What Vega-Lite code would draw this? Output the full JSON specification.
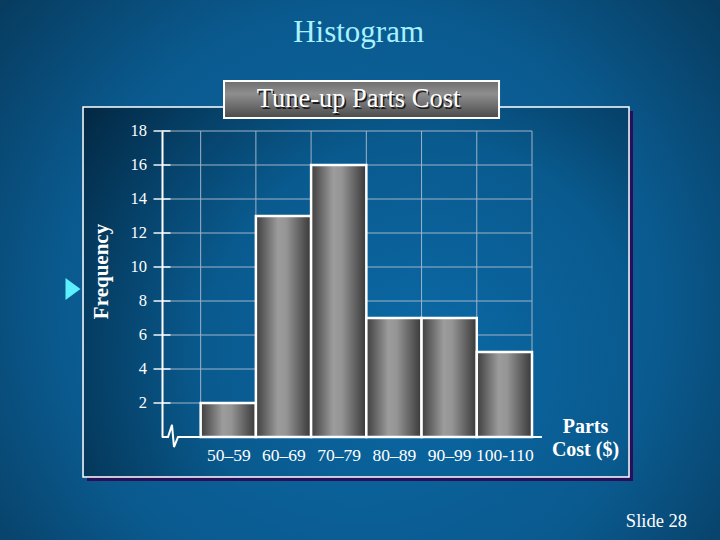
{
  "$schema": "https://vega.github.io/schema/vega-lite/v6.json",
  "width": 370,
  "height": 306,
  "autosize": {"type": "none"},
  "padding": {"left": 162, "top": 131, "right": 188, "bottom": 103},
  "background": "#0a5282",
  "config": {"view": {"stroke": null}, "font": "Liberation Serif", "axis": {"labelOverlap": false, "labelSeparation": 0}},
  "datasets": {
    "bins": [
      {"range": "50–59", "start": 50, "end": 60, "frequency": 2},
      {"range": "60–69", "start": 60, "end": 70, "frequency": 13},
      {"range": "70–79", "start": 70, "end": 80, "frequency": 16},
      {"range": "80–89", "start": 80, "end": 90, "frequency": 7},
      {"range": "90–99", "start": 90, "end": 100, "frequency": 7},
      {"range": "100-110", "start": 100, "end": 110, "frequency": 5}
    ],
    "ygrid": [{"v": 2}, {"v": 4}, {"v": 6}, {"v": 8}, {"v": 10}, {"v": 12}, {"v": 14}, {"v": 16}, {"v": 18}],
    "xgrid": [{"v": 50}, {"v": 60}, {"v": 70}, {"v": 80}, {"v": 90}, {"v": 100}, {"v": 110}],
    "axisbreak": [
      {"cost": 43, "freq": 0},
      {"cost": 44.09, "freq": 0},
      {"cost": 44.81, "freq": 0.71},
      {"cost": 45.17, "freq": -0.59},
      {"cost": 45.9, "freq": 0},
      {"cost": 111.8, "freq": 0}
    ]
  },
  "layer": [
    {
      "data": {"values": [{}]},
      "mark": {"type": "rect", "fill": {"gradient": "radial", "x1": 0.5, "y1": 0.55, "r1": 0, "x2": 0.5, "y2": 0.55, "r2": 0.75,
        "stops": [{"offset": 0, "color": "#0b6aa6"}, {"offset": 0.55, "color": "#0a5a8f"}, {"offset": 1, "color": "#062e4a"}]}},
      "encoding": {
        "x": {"datum": 13, "type": "quantitative"}, "x2": {"datum": 145},
        "y": {"datum": 26, "type": "quantitative"}, "y2": {"datum": -6.5}
      }
    },
    {
      "data": {"values": [{}]},
      "mark": {"type": "rect", "fill": "#2a0e5a"},
      "encoding": {
        "x": {"datum": 29.42, "type": "quantitative"}, "x2": {"datum": 128.29},
        "y": {"datum": 19.18, "type": "quantitative"}, "y2": {"datum": -2.59}
      }
    },
    {
      "data": {"values": [{}]},
      "mark": {"type": "rect", "stroke": "#ffffff", "strokeWidth": 1.5, "fill": {"gradient": "radial", "x1": 0.62, "y1": 0.62, "r1": 0, "x2": 0.62, "y2": 0.62, "r2": 0.8,
        "stops": [{"offset": 0, "color": "#0b69a6"}, {"offset": 0.5, "color": "#095a8e"}, {"offset": 1, "color": "#02243d"}]}},
      "encoding": {
        "x": {"datum": 28.7, "type": "quantitative"}, "x2": {"datum": 127.57},
        "y": {"datum": 19.41, "type": "quantitative"}, "y2": {"datum": -2.35}
      }
    },
    {
      "data": {"name": "xgrid"},
      "mark": {"type": "rule", "color": "#9fb3c8", "strokeWidth": 1},
      "encoding": {"x": {"field": "v", "type": "quantitative"}}
    },
    {
      "data": {"name": "ygrid"},
      "mark": {"type": "rule", "color": "#9fb3c8", "strokeWidth": 1},
      "encoding": {"y": {"field": "v", "type": "quantitative"}}
    },
    {
      "data": {"name": "bins"},
      "mark": {"type": "rect", "stroke": "#ffffff", "strokeWidth": 2.5,
        "fill": {"gradient": "linear", "x1": 0, "y1": 0, "x2": 1, "y2": 0,
          "stops": [{"offset": 0, "color": "#3e3e3e"}, {"offset": 0.4, "color": "#9c9c9c"}, {"offset": 0.55, "color": "#959595"}, {"offset": 1, "color": "#383838"}]}},
      "encoding": {
        "x": {"field": "start", "type": "quantitative",
          "scale": {"domain": [43, 110], "nice": false, "zero": false},
          "axis": {
            "values": [55, 65, 75, 85, 95, 105],
            "labelExpr": "datum.value == 105 ? '100-110' : (datum.value - 5) + '–' + (datum.value + 4)",
            "domain": false, "ticks": false, "tickSize": 0, "grid": false,
            "labelPadding": 23, "labelBaseline": "alphabetic", "labelFontSize": 17.5, "labelColor": "#ffffff",
            "labelFont": "Liberation Serif", "labelOverlap": false, "labelFlush": false, "labelBound": false,
            "title": ["Parts", "Cost ($)"], "titleFont": "Liberation Serif", "titleFontSize": 20, "titleFontWeight": "bold",
            "titleColor": "#ffffff", "titleX": 423, "titleY": -5, "titleAlign": "center", "titleBaseline": "alphabetic",
            "titleAngle": 0, "titleLineHeight": 23, "zindex": 1
          }
        },
        "x2": {"field": "end"},
        "y": {"field": "frequency", "type": "quantitative",
          "scale": {"domain": [0, 18], "nice": false, "zero": false},
          "axis": {
            "values": [2, 4, 6, 8, 10, 12, 14, 16, 18],
            "domain": true, "domainColor": "#ffffff", "domainWidth": 2,
            "ticks": false, "tickSize": 0, "grid": false, "labels": false,
            "title": "Frequency", "titleFont": "Liberation Serif", "titleFontSize": 21, "titleFontWeight": "bold",
            "titleColor": "#ffffff", "titleX": -55, "titleY": 140, "titleAngle": -90, "titleAlign": "center",
            "titleBaseline": "alphabetic", "zindex": 1
          }
        },
        "y2": {"datum": 0}
      }
    },
    {
      "data": {"name": "ygrid"},
      "mark": {"type": "tick", "orient": "horizontal", "color": "#ffffff", "size": 17, "thickness": 2},
      "encoding": {"y": {"field": "v", "type": "quantitative"}, "x": {"datum": 43, "type": "quantitative"}}
    },
    {
      "data": {"name": "ygrid"},
      "mark": {"type": "text", "font": "Liberation Serif", "fontSize": 16.5, "color": "#ffffff", "align": "right", "baseline": "middle", "dx": -15},
      "encoding": {"y": {"field": "v", "type": "quantitative"}, "x": {"datum": 43, "type": "quantitative"}, "text": {"field": "v", "type": "quantitative"}}
    },
    {
      "data": {"name": "axisbreak"},
      "mark": {"type": "line", "color": "#ffffff", "strokeWidth": 2},
      "encoding": {"x": {"field": "cost", "type": "quantitative"}, "y": {"field": "freq", "type": "quantitative"}}
    },
    {
      "data": {"values": [{}]},
      "mark": {"type": "rect", "stroke": "#ffffff", "strokeWidth": 2,
        "fill": {"gradient": "linear", "x1": 0, "y1": 0, "x2": 0, "y2": 1,
          "stops": [{"offset": 0, "color": "#6e6e6e"}, {"offset": 0.35, "color": "#8e8e8e"}, {"offset": 1, "color": "#4a4a4a"}]}},
      "encoding": {
        "x": {"datum": 54.23, "type": "quantitative"}, "x2": {"datum": 104.03},
        "y": {"datum": 20.94, "type": "quantitative"}, "y2": {"datum": 18.76}
      }
    },
    {
      "data": {"values": [{"t": "Tune-up Parts Cost"}]},
      "mark": {"type": "text", "font": "Liberation Serif", "fontSize": 26.5, "color": "#1a1a1a", "align": "center", "baseline": "alphabetic", "dx": 1.5, "dy": 1.5},
      "encoding": {"x": {"datum": 78.58, "type": "quantitative"}, "y": {"datum": 19.41, "type": "quantitative"}, "text": {"field": "t"}}
    },
    {
      "data": {"values": [{"t": "Tune-up Parts Cost"}]},
      "mark": {"type": "text", "font": "Liberation Serif", "fontSize": 26.5, "color": "#ffffff", "align": "center", "baseline": "alphabetic"},
      "encoding": {"x": {"datum": 78.58, "type": "quantitative"}, "y": {"datum": 19.41, "type": "quantitative"}, "text": {"field": "t"}}
    },
    {
      "data": {"values": [{"t": "Histogram"}]},
      "mark": {"type": "text", "font": "Liberation Serif", "fontSize": 31, "color": "#a8f2ff", "align": "center", "baseline": "alphabetic"},
      "encoding": {"x": {"datum": 78.6, "type": "quantitative"}, "y": {"datum": 23.24, "type": "quantitative"}, "text": {"field": "t"}}
    },
    {
      "data": {"values": [{"t": "Slide 28"}]},
      "mark": {"type": "text", "font": "Liberation Serif", "fontSize": 18.5, "color": "#ffffff", "align": "right", "baseline": "alphabetic"},
      "encoding": {"x": {"datum": 138.07, "type": "quantitative"}, "y": {"datum": -5.29, "type": "quantitative"}, "text": {"field": "t"}}
    },
    {
      "data": {"values": [{}]},
      "mark": {"type": "point", "shape": "M-0.68,-1L0.68,0L-0.68,1Z", "size": 484, "filled": true, "color": "#5cf0ff", "opacity": 1},
      "encoding": {"x": {"datum": 26.88, "type": "quantitative"}, "y": {"datum": 8.71, "type": "quantitative"}}
    }
  ]
}
